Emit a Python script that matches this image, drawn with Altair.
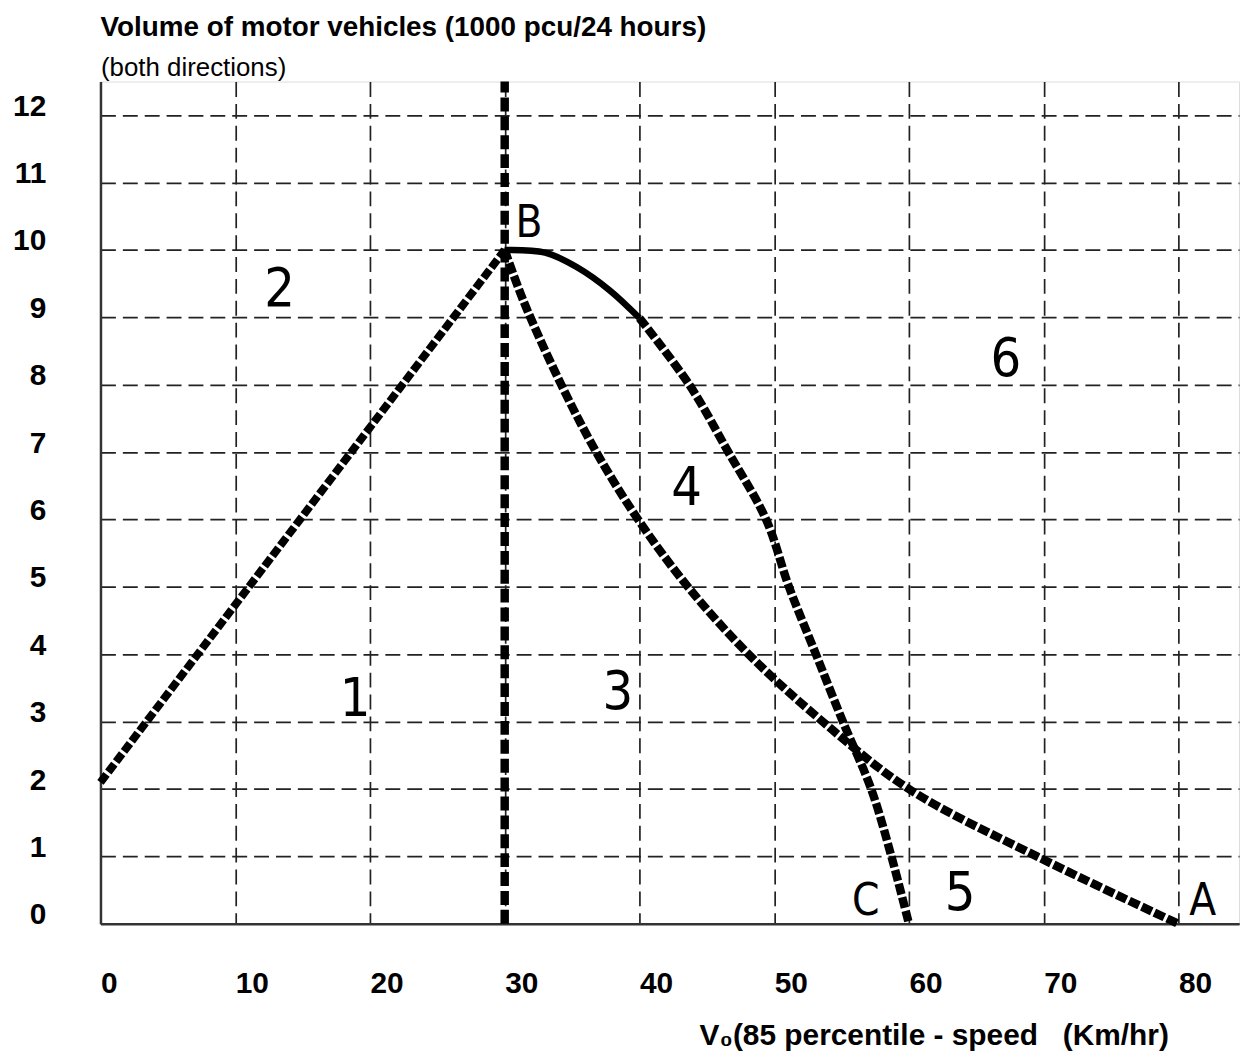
import altair as alt
import pandas as pd

FONT = "Liberation Sans, Arial, sans-serif"
HAND = "Liberation Sans Narrow, DejaVu Sans Condensed, sans-serif"

x_ticks = [0, 10, 20, 30, 40, 50, 60, 70, 80]
y_ticks = [0, 1, 2, 3, 4, 5, 6, 7, 8, 9, 10, 11, 12]

# line from the y-axis up to B
ob_x = [0, 30]
ob_y = [2.1, 10]

# curve B -> A
ba_x = [30, 31.4, 34.2, 36.8, 39.9, 43.6, 48.1, 53.6, 60.0, 69.5, 80.0]
ba_y = [10, 9.24, 8.0, 7.0, 6.0, 5.0, 4.0, 3.0, 2.0, 1.0, 0.0]

# curve B -> C (solid part, then dashed part)
bc_solid_x = [30, 33, 35.4, 37.8, 40]
bc_solid_y = [10, 9.96, 9.74, 9.4, 8.99]
bc_dash_x = [40, 43.7, 46.6, 49.4, 51.1, 53.1, 55.1, 57.2, 58.7, 60]
bc_dash_y = [8.99, 8.0, 7.0, 6.0, 5.0, 4.0, 3.0, 2.0, 1.0, 0]

# vertical line at 30 km/h
vline_x = [30, 30]
vline_y = [0, 12.5]

region_text = ["1", "2", "3", "4", "5", "6"]
region_x = [18.9, 13.3, 38.4, 43.5, 63.8, 67.2]
region_y = [3.08, 9.17, 3.19, 6.21, 0.21, 8.13]

point_text = ["A", "B", "C"]
point_x = [81.8, 31.8, 56.8]
point_y = [0.13, 10.2, 0.13]

xscale = alt.Scale(domain=[0, 84.5], nice=False, zero=False)
yscale = alt.Scale(domain=[0, 12.5], nice=False, zero=False)

xaxis = alt.Axis(
    values=x_ticks, grid=True, gridDash=[15, 7], gridColor="#222222", gridWidth=1.7,
    domain=True, domainColor="#333333", domainWidth=2.5, ticks=False, tickSize=0,
    labelFont=FONT, labelFontSize=30, labelFontWeight="bold", labelColor="black",
    labelAlign="left", labelBaseline="alphabetic", labelPadding=69,
    labelFlush=False, labelOverlap=False, labelBound=False,
    title="V₀(85 percentile - speed\u00a0\u00a0\u00a0(Km/hr)", titleFont=FONT, titleFontSize=30,
    titleFontWeight="bold", titleColor="black", titleX=602, titleY=121,
    titleAlign="left", titleBaseline="alphabetic", titleAnchor="start",
)
yaxis = alt.Axis(
    values=y_ticks, grid=True, gridDash=[15, 7], gridColor="#222222", gridWidth=1.7,
    domain=True, domainColor="#333333", domainWidth=2.5, ticks=False, tickSize=0,
    labelFont=FONT, labelFontSize=30, labelFontWeight="bold", labelColor="black",
    labelAlign="right", labelBaseline="alphabetic", labelPadding=55,
    labelFlush=False, labelOverlap=False, labelBound=False,
    title="(both directions)", titleFont=FONT, titleFontSize=26, titleFontWeight="normal",
    titleColor="black", titleAngle=0, titleX=0, titleY=-6, titleAlign="left",
    titleBaseline="alphabetic",
)

X = alt.X("x:Q", scale=xscale, axis=xaxis)
Y = alt.Y("y:Q", scale=yscale, axis=yaxis)
ORD = alt.Order("i:Q")


def df(xs, ys):
    return pd.DataFrame({"x": xs, "y": ys, "i": list(range(len(xs)))})


vline = alt.Chart(df(vline_x, vline_y)).mark_line(
    color="black", strokeWidth=8.5, strokeDash=[14, 5]
).encode(x=X, y=Y, order=ORD)

ob = alt.Chart(df(ob_x, ob_y)).mark_line(
    color="black", strokeWidth=8, strokeDash=[10, 3]
).encode(x=X, y=Y, order=ORD)

ba = alt.Chart(df(ba_x, ba_y)).mark_line(
    color="black", strokeWidth=8.5, strokeDash=[11, 3], interpolate="catmull-rom"
).encode(x=X, y=Y, order=ORD)

bc1 = alt.Chart(df(bc_solid_x, bc_solid_y)).mark_line(
    color="black", strokeWidth=6.5, interpolate="catmull-rom"
).encode(x=X, y=Y, order=ORD)

bc2 = alt.Chart(df(bc_dash_x, bc_dash_y)).mark_line(
    color="black", strokeWidth=8.5, strokeDash=[11, 3], interpolate="catmull-rom"
).encode(x=X, y=Y, order=ORD)

regions = alt.Chart(
    pd.DataFrame({"x": region_x, "y": region_y, "t": region_text})
).mark_text(
    font=HAND, fontSize=54, align="center", baseline="alphabetic", color="black"
).encode(x=X, y=Y, text="t:N")

points = alt.Chart(
    pd.DataFrame({"x": point_x, "y": point_y, "t": point_text})
).mark_text(
    font=HAND, fontSize=44, align="center", baseline="alphabetic", color="black"
).encode(x=X, y=Y, text="t:N")

chart = alt.layer(vline, ob, ba, bc1, bc2, regions, points).properties(
    width=1145,
    height=847,
    autosize=alt.AutoSizeParams(type="none"),
    padding={"left": 93, "top": 71, "right": 5, "bottom": 128},
    title=alt.TitleParams(
        "Volume of motor vehicles (1000 pcu/24 hours)",
        anchor="start", frame="group", font=FONT, fontSize=28,
        fontWeight="bold", color="black", offset=13,
    ),
).configure_view(strokeWidth=0).configure(background="white")

chart.save("out.html", embed_options={"renderer": "svg", "actions": False})
